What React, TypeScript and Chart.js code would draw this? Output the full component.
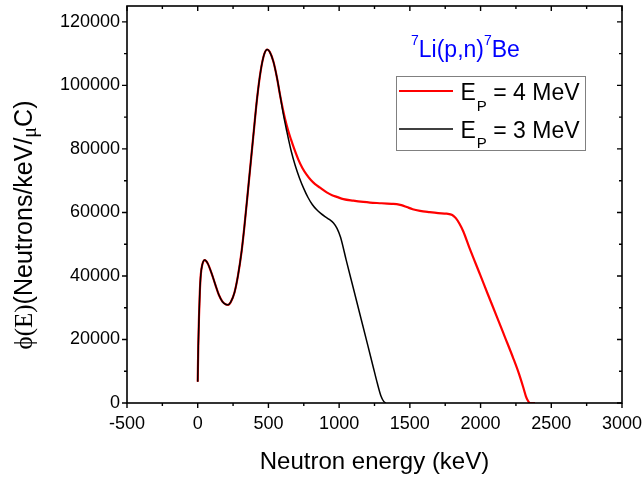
import { useEffect, useRef } from "react";
import { Chart, registerables } from "chart.js";

Chart.register(...registerables);

const SANS = '"Liberation Sans", Arial, Helvetica, sans-serif';
const SERIF = '"Liberation Serif", "Times New Roman", serif';

// ---- Data ----
const ENERGY_SHARED = [0, 4, 9, 15, 22, 32, 50, 70, 100, 125, 150, 175, 200, 215, 235, 260, 285, 311, 330, 360, 393, 420, 445, 470, 492, 510, 535, 560, 582];
const FLUX_SHARED = [6700, 18000, 27000, 35000, 40500, 43500, 45000, 44000, 40600, 37200, 34000, 31900, 31000, 30900, 31900, 34800, 40200, 48000, 55500, 69000, 84000, 96000, 104500, 109800, 111300, 110500, 107500, 102500, 97000];

const ENERGY_4MEV_TAIL = [600, 620, 640, 660, 680, 710, 740, 770, 800, 830, 865, 912, 950, 983, 1030, 1100, 1171, 1218, 1300, 1370, 1407, 1440, 1478, 1520, 1572, 1640, 1700, 1760, 1800, 1825, 1850, 1878, 1920, 1996, 2050, 2114, 2170, 2232, 2270, 2300, 2320, 2335, 2350, 2385];
const FLUX_4MEV_TAIL = [93000, 89000, 85700, 82900, 80300, 76800, 74000, 71900, 70200, 68900, 67800, 66300, 65400, 64900, 64200, 63700, 63300, 63100, 62900, 62700, 62600, 62300, 61700, 61000, 60500, 60100, 59800, 59600, 59200, 58200, 56500, 54000, 49000, 40500, 34400, 27300, 21000, 14000, 9400, 5200, 2200, 700, 0, 0];

const ENERGY_3MEV_TAIL = [605, 630, 660, 690, 720, 750, 780, 810, 840, 870, 900, 930, 960, 985, 1010, 1050, 1100, 1150, 1200, 1240, 1270, 1295, 1315, 1330];
const FLUX_3MEV_TAIL = [91000, 85500, 79500, 74700, 70800, 67500, 64700, 62500, 60900, 59700, 58700, 57800, 56700, 55000, 52200, 45000, 36200, 27400, 18600, 11500, 6200, 2300, 500, 0];

const X_MAJOR_TICKS = [-500, 0, 500, 1000, 1500, 2000, 2500, 3000];
const X_MINOR_TICKS = [-250, 250, 750, 1250, 1750, 2250, 2750];
const Y_MAJOR_TICKS = [0, 20000, 40000, 60000, 80000, 100000, 120000];
const Y_MINOR_TICKS = [10000, 30000, 50000, 70000, 90000, 110000];

const SERIES_NAMES = ["EP = 4 MeV", "EP = 3 MeV"];
const LEGEND_MAIN = ["E", "E"];
const LEGEND_SUB = ["P", "P"];
const LEGEND_REST = [" = 4 MeV", " = 3 MeV"];
const SERIES_COLORS = ["#ff0000", "#000000"];

const X_TITLE = "Neutron energy (keV)";

function pts(xs: number[], ys: number[]) {
  return xs.map((x, i) => ({ x, y: ys[i] }));
}

const decorPlugin = {
  id: "decor",
  afterDraw(chart: any) {
    const ctx: CanvasRenderingContext2D = chart.ctx;
    const { left, right, top, bottom } = chart.chartArea;
    const xs = chart.scales.x;
    const ys = chart.scales.y;
    ctx.save();
    ctx.strokeStyle = "#000";
    ctx.lineWidth = 1.6;
    ctx.strokeRect(left, top, right - left, bottom - top);
    ctx.lineWidth = 1.4;
    const MAJ = 5;
    const MIN = 3;
    ctx.beginPath();
    const xt = (v: number, len: number) => {
      const px = xs.getPixelForValue(v);
      ctx.moveTo(px, bottom);
      ctx.lineTo(px, bottom + len);
      ctx.moveTo(px, top);
      ctx.lineTo(px, top + len);
    };
    const yt = (v: number, len: number) => {
      const py = ys.getPixelForValue(v);
      ctx.moveTo(left, py);
      ctx.lineTo(left - len, py);
      ctx.moveTo(right, py);
      ctx.lineTo(right - len, py);
    };
    X_MAJOR_TICKS.forEach((v) => xt(v, MAJ));
    X_MINOR_TICKS.forEach((v) => xt(v, MIN));
    Y_MAJOR_TICKS.forEach((v) => yt(v, MAJ));
    Y_MINOR_TICKS.forEach((v) => yt(v, MIN));
    ctx.stroke();

    // Y axis title (mixed fonts)
    const parts = [
      { t: "\u03D5(E)", f: `25px ${SERIF}`, dy: 0 },
      { t: "(Neutrons/keV/", f: `25px ${SANS}`, dy: 0 },
      { t: "\u03BC", f: `20px ${SERIF}`, dy: 4 },
      { t: "C)", f: `25px ${SANS}`, dy: 0 },
    ];
    let total = 0;
    parts.forEach((p) => {
      ctx.font = p.f;
      total += ctx.measureText(p.t).width;
    });
    ctx.save();
    ctx.translate(32, 225);
    ctx.rotate(-Math.PI / 2);
    ctx.fillStyle = "#000";
    ctx.textBaseline = "alphabetic";
    ctx.textAlign = "left";
    let cx = -total / 2;
    parts.forEach((p) => {
      ctx.font = p.f;
      ctx.fillText(p.t, cx, p.dy);
      cx += ctx.measureText(p.t).width;
    });
    ctx.restore();

    // Reaction title
    ctx.fillStyle = "#0000ff";
    ctx.textAlign = "left";
    ctx.textBaseline = "alphabetic";
    const tparts = [
      { t: "7", f: `14px ${SANS}`, by: 45 },
      { t: "Li(p,n)", f: `23px ${SANS}`, by: 57 },
      { t: "7", f: `14px ${SANS}`, by: 45 },
      { t: "Be", f: `23px ${SANS}`, by: 57 },
    ];
    let tx = 411;
    tparts.forEach((p) => {
      ctx.font = p.f;
      ctx.fillText(p.t, tx, p.by);
      tx += ctx.measureText(p.t).width;
    });

    // Legend
    const bx = 396, by = 76, bw = 189, bh = 74;
    ctx.fillStyle = "#fff";
    ctx.fillRect(bx, by, bw, bh);
    ctx.strokeStyle = "#808080";
    ctx.lineWidth = 1;
    ctx.strokeRect(bx + 0.5, by + 0.5, bw, bh);
    const rowLineY = [91, 129];
    const rowBase = [100, 137.5];
    const widths = [2.2, 1.5];
    for (let i = 0; i < 2; i++) {
      ctx.strokeStyle = SERIES_COLORS[i];
      ctx.lineWidth = widths[i];
      ctx.beginPath();
      ctx.moveTo(399, rowLineY[i]);
      ctx.lineTo(453, rowLineY[i]);
      ctx.stroke();
      ctx.fillStyle = "#000";
      let lx = 460.5;
      ctx.font = `23px ${SANS}`;
      ctx.fillText(LEGEND_MAIN[i], lx, rowBase[i]);
      lx += ctx.measureText(LEGEND_MAIN[i]).width + 1;
      ctx.font = `15px ${SANS}`;
      ctx.fillText(LEGEND_SUB[i], lx, rowBase[i] + 10.5);
      lx += ctx.measureText(LEGEND_SUB[i]).width;
      ctx.font = `23px ${SANS}`;
      ctx.fillText(LEGEND_REST[i], lx, rowBase[i]);
    }
    ctx.restore();
  },
};

export default function App() {
  const ref = useRef<HTMLCanvasElement>(null);
  useEffect(() => {
    document.body.style.margin = "0";
    const canvas = ref.current!;
    const chart = new Chart(canvas, {
      type: "line",
      data: {
        datasets: [
          {
            label: SERIES_NAMES[0],
            data: pts(ENERGY_SHARED.concat(ENERGY_4MEV_TAIL), FLUX_SHARED.concat(FLUX_4MEV_TAIL)),
            borderColor: SERIES_COLORS[0],
            borderWidth: 2.2,
            pointRadius: 0,
            cubicInterpolationMode: "monotone",
            fill: false,
            order: 1,
          },
          {
            label: SERIES_NAMES[1],
            data: pts(ENERGY_SHARED.concat(ENERGY_3MEV_TAIL), FLUX_SHARED.concat(FLUX_3MEV_TAIL)),
            borderColor: SERIES_COLORS[1],
            borderWidth: 1.5,
            pointRadius: 0,
            cubicInterpolationMode: "monotone",
            fill: false,
            order: 0,
          },
        ],
      },
      options: {
        responsive: false,
        animation: false,
        maintainAspectRatio: false,
        layout: { padding: { left: 0, top: 6, right: 21, bottom: 0 } },
        plugins: {
          legend: { display: false },
          tooltip: { enabled: false },
          title: { display: false },
        },
        scales: {
          x: {
            type: "linear",
            min: -500,
            max: 3000,
            grid: { display: false, drawTicks: false },
            border: { display: false },
            ticks: {
              color: "#000",
              font: { family: SANS, size: 18 },
              padding: 10,
              maxRotation: 0,
              autoSkip: false,
              callback: (v: any) => String(v),
            },
            afterBuildTicks: (s: any) => {
              s.ticks = X_MAJOR_TICKS.map((v) => ({ value: v }));
            },
            afterFit: (s: any) => {
              s.height = 76;
              s.paddingLeft = 0;
              s.paddingRight = 0;
            },
            title: {
              display: true,
              text: X_TITLE,
              color: "#000",
              font: { family: SANS, size: 24 },
              padding: { top: 0, bottom: 2 },
            },
          },
          y: {
            type: "linear",
            min: 0,
            max: 125000,
            grid: { display: false, drawTicks: false },
            border: { display: false },
            ticks: {
              color: "#000",
              font: { family: SANS, size: 18 },
              padding: 7,
              autoSkip: false,
              callback: (v: any) => String(v),
            },
            afterBuildTicks: (s: any) => {
              s.ticks = Y_MAJOR_TICKS.map((v) => ({ value: v }));
            },
            afterFit: (s: any) => {
              s.width = 127;
              s.paddingTop = 0;
              s.paddingBottom = 0;
            },
          },
        },
      },
      plugins: [decorPlugin],
    } as any);
    return () => chart.destroy();
  }, []);
  return (
    <div style={{ position: "absolute", left: 0, top: 0, width: 643, height: 479 }}>
      <canvas ref={ref} width={643} height={479} style={{ display: "block", width: 643, height: 479 }} />
    </div>
  );
}
